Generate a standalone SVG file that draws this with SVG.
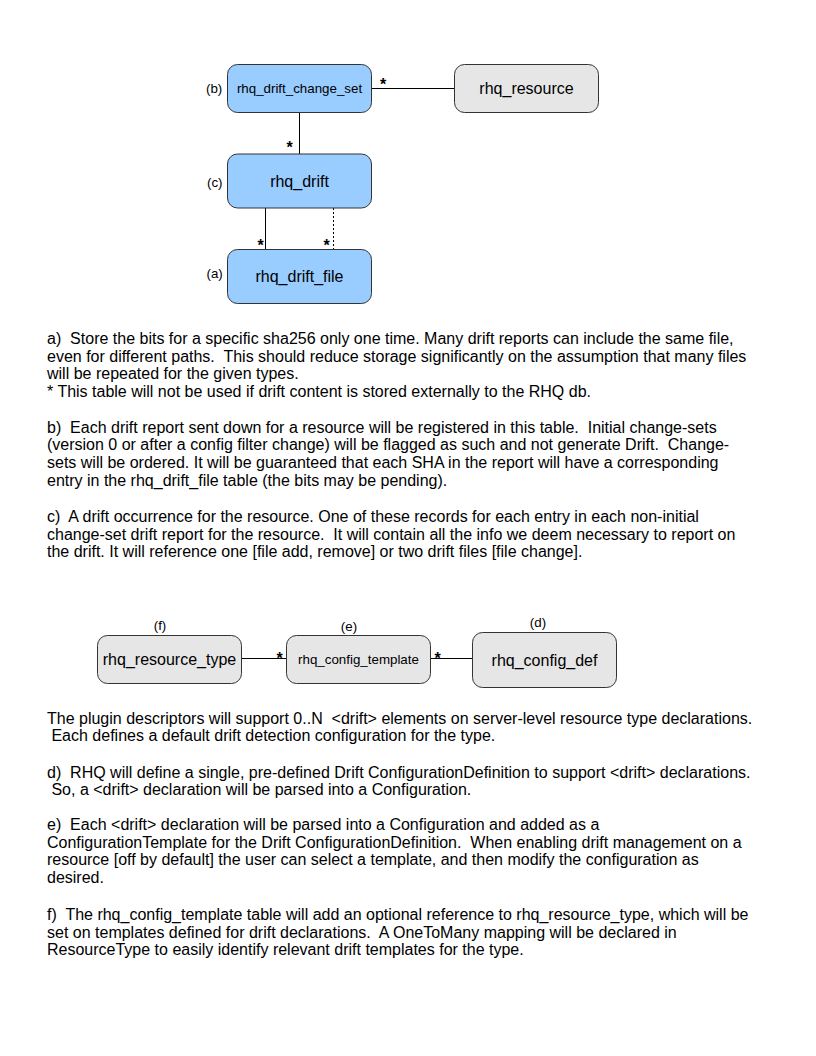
<svg xmlns="http://www.w3.org/2000/svg" width="816" height="1056" viewBox="0 0 816 1056">
<style>
  .bg { fill: #ffffff; }
  .box { stroke: #333333; stroke-width: 1; }
  .blue { fill: #99ccff; }
  .gray { fill: #e6e6e6; }
  .t16 { font-family: "Liberation Sans", Arial, sans-serif; font-size: 16px; fill: #000; text-anchor: middle; }
  .t13 { font-family: "Liberation Sans", Arial, sans-serif; font-size: 13.33px; fill: #000; text-anchor: middle; }
  .lbl { font-family: "Liberation Sans", Arial, sans-serif; font-size: 13.33px; fill: #000; }
  .star { font-family: "Liberation Sans", Arial, sans-serif; font-size: 16px; font-weight: bold; fill: #000; text-anchor: middle; }
  .line { stroke: #000; stroke-width: 1; fill: none; }
  .dash { stroke: #000; stroke-width: 1; fill: none; stroke-dasharray: 2 2; }
  .body text { font-family: "Liberation Sans", Arial, sans-serif; font-size: 16px; fill: #000; white-space: pre; }
</style>
<rect class="bg" x="0" y="0" width="816" height="1056"/>

<g id="connectors">
  <line class="line" x1="372" y1="88.5" x2="454" y2="88.5"/>
  <line class="line" x1="299.5" y1="112" x2="299.5" y2="154"/>
  <line class="line" x1="265.5" y1="208" x2="265.5" y2="249"/>
  <line class="dash" x1="333.5" y1="208" x2="333.5" y2="249"/>
  <line class="line" x1="241.5" y1="658.5" x2="286.5" y2="658.5"/>
  <line class="line" x1="430.5" y1="658.5" x2="472.5" y2="658.5"/>
  <text class="star" x="383" y="90">*</text>
  <text class="star" x="289.5" y="153">*</text>
  <text class="star" x="260.5" y="251">*</text>
  <text class="star" x="326.5" y="251">*</text>
  <text class="star" x="279.5" y="664">*</text>
  <text class="star" x="437.5" y="664">*</text>
</g>

<g id="rhq_drift_change_set">
  <rect class="box blue" x="227.5" y="64.5" width="144" height="48" rx="10" ry="10"/>
  <text class="t13" x="299.5" y="93">rhq_drift_change_set</text>
  <text class="lbl" x="206" y="93">(b)</text>
</g>

<g id="rhq_resource">
  <rect class="box gray" x="454.5" y="64.5" width="144" height="48" rx="10" ry="10"/>
  <text class="t16" x="526.5" y="94">rhq_resource</text>
</g>

<g id="rhq_drift">
  <rect class="box blue" x="227.5" y="154" width="144" height="54" rx="10" ry="10"/>
  <text class="t16" x="299.5" y="186.5">rhq_drift</text>
  <text class="lbl" x="207" y="186.5">(c)</text>
</g>

<g id="rhq_drift_file">
  <rect class="box blue" x="227.5" y="249.5" width="144" height="54" rx="10" ry="10"/>
  <text class="t16" x="299.5" y="281.5">rhq_drift_file</text>
  <text class="lbl" x="206.5" y="277.5">(a)</text>
</g>

<g id="rhq_resource_type">
  <rect class="box gray" x="97.5" y="635.5" width="144" height="48" rx="10" ry="10"/>
  <text class="t16" x="169.5" y="665">rhq_resource_type</text>
  <text class="t13" x="160" y="629.5">(f)</text>
</g>

<g id="rhq_config_template">
  <rect class="box gray" x="286.5" y="635.5" width="144" height="48" rx="10" ry="10"/>
  <text class="t13" x="358.5" y="664">rhq_config_template</text>
  <text class="t13" x="349" y="631">(e)</text>
</g>

<g id="rhq_config_def">
  <rect class="box gray" x="472.5" y="632.5" width="144" height="55" rx="10" ry="10"/>
  <text class="t16" x="544.5" y="665.5">rhq_config_def</text>
  <text class="t13" x="538" y="627">(d)</text>
</g>

<g id="notes" class="body">
  <text x="47" y="344">a)  Store the bits for a specific sha256 only one time. Many drift reports can include the same file,</text>
  <text x="47" y="361.7">even for different paths.  This should reduce storage significantly on the assumption that many files</text>
  <text x="47" y="379.3">will be repeated for the given types.</text>
  <text x="47" y="397">* This table will not be used if drift content is stored externally to the RHQ db.</text>
  <text x="47" y="432.5">b)  Each drift report sent down for a resource will be registered in this table.  Initial change-sets</text>
  <text x="47" y="450.2">(version 0 or after a config filter change) will be flagged as such and not generate Drift.  Change-</text>
  <text x="47" y="467.8">sets will be ordered. It will be guaranteed that each SHA in the report will have a corresponding</text>
  <text x="47" y="485.5">entry in the rhq_drift_file table (the bits may be pending).</text>
  <text x="47" y="522">c)  A drift occurrence for the resource. One of these records for each entry in each non-initial</text>
  <text x="47" y="539.7">change-set drift report for the resource.  It will contain all the info we deem necessary to report on</text>
  <text x="47" y="557.3">the drift. It will reference one [file add, remove] or two drift files [file change].</text>
  <text x="47" y="723.5">The plugin descriptors will support 0..N  &lt;drift&gt; elements on server-level resource type declarations.</text>
  <text x="47" y="741.2"> Each defines a default drift detection configuration for the type.</text>
  <text x="47" y="777.7">d)  RHQ will define a single, pre-defined Drift ConfigurationDefinition to support &lt;drift&gt; declarations.</text>
  <text x="47" y="795.3"> So, a &lt;drift&gt; declaration will be parsed into a Configuration.</text>
  <text x="47" y="830">e)  Each &lt;drift&gt; declaration will be parsed into a Configuration and added as a</text>
  <text x="47" y="847.7">ConfigurationTemplate for the Drift ConfigurationDefinition.  When enabling drift management on a</text>
  <text x="47" y="865.3">resource [off by default] the user can select a template, and then modify the configuration as</text>
  <text x="47" y="883">desired.</text>
  <text x="47" y="920">f)  The rhq_config_template table will add an optional reference to rhq_resource_type, which will be</text>
  <text x="47" y="937.7">set on templates defined for drift declarations.  A OneToMany mapping will be declared in</text>
  <text x="47" y="955.3">ResourceType to easily identify relevant drift templates for the type.</text>
</g>
</svg>
